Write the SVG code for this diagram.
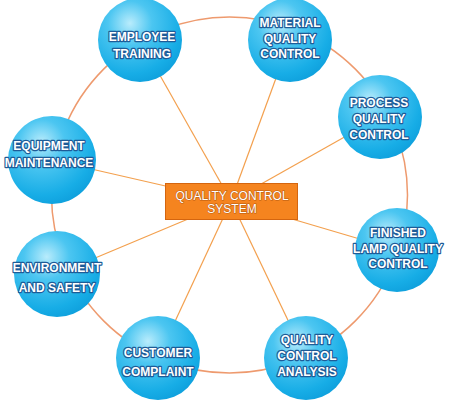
<svg xmlns="http://www.w3.org/2000/svg" width="450" height="404" viewBox="0 0 450 404">
<defs>
<radialGradient id="ball" cx="0.38" cy="0.3" r="0.75">
<stop offset="0" stop-color="#b9ecfc"/>
<stop offset="0.35" stop-color="#4cc6f1"/>
<stop offset="0.8" stop-color="#17ade6"/>
<stop offset="1" stop-color="#0e9fdc"/>
</radialGradient>
</defs>
<style>
.ring{fill:none;stroke:#ee9a6e;stroke-width:1.5}
.spoke{stroke:#f3a04e;stroke-width:1.2}
.ball{fill:url(#ball)}
.lbl{font-family:"Liberation Sans",Arial,sans-serif;font-size:12px;font-weight:bold;fill:#ffffff;stroke:#1d5c98;stroke-width:2.4;paint-order:stroke;stroke-linejoin:round;text-anchor:middle}
.ctr{font-family:"Liberation Sans",Arial,sans-serif;font-size:12px;fill:#ffffff;stroke:#b85a10;stroke-width:1;paint-order:stroke;text-anchor:middle}
</style>
<rect width="450" height="404" fill="#ffffff"/>
<circle class="ring" cx="229.5" cy="195" r="178"/>
<g id="connectors">
<line class="spoke" x1="231" y1="201" x2="140" y2="40"/>
<line class="spoke" x1="231" y1="201" x2="290" y2="40"/>
<line class="spoke" x1="231" y1="201" x2="380" y2="117"/>
<line class="spoke" x1="231" y1="201" x2="397" y2="250"/>
<line class="spoke" x1="231" y1="201" x2="306" y2="358"/>
<line class="spoke" x1="231" y1="201" x2="158" y2="358"/>
<line class="spoke" x1="231" y1="201" x2="57" y2="274"/>
<line class="spoke" x1="231" y1="201" x2="52" y2="160"/>
</g>
<g id="center">
<rect x="165.5" y="183.5" width="132" height="36" fill="#f5841f" stroke="#d4650f" stroke-width="1"/>
<text class="ctr" x="232" y="199.5">QUALITY CONTROL</text>
<text class="ctr" x="232" y="212.5">SYSTEM</text>
</g>
<g id="employee-training">
<circle class="ball" cx="140" cy="40" r="42"/>
<text class="lbl" x="142" y="40.5">EMPLOYEE</text>
<text class="lbl" x="142" y="57.5">TRAINING</text>
</g>
<g id="material-quality-control">
<circle class="ball" cx="290" cy="40" r="42"/>
<text class="lbl" x="290" y="26.5">MATERIAL</text>
<text class="lbl" x="290" y="42.5">QUALITY</text>
<text class="lbl" x="290" y="58">CONTROL</text>
</g>
<g id="process-quality-control">
<circle class="ball" cx="380" cy="117" r="42"/>
<text class="lbl" x="379" y="106.5">PROCESS</text>
<text class="lbl" x="379" y="122.5">QUALITY</text>
<text class="lbl" x="379" y="138.5">CONTROL</text>
</g>
<g id="finished-lamp-quality-control">
<circle class="ball" cx="397" cy="250" r="42"/>
<text class="lbl" x="398" y="236.5">FINISHED</text>
<text class="lbl" x="398" y="252.5">LAMP QUALITY</text>
<text class="lbl" x="398" y="267.5">CONTROL</text>
</g>
<g id="quality-control-analysis">
<circle class="ball" cx="306" cy="358" r="42"/>
<text class="lbl" x="307" y="343.5">QUALITY</text>
<text class="lbl" x="307" y="359.5">CONTROL</text>
<text class="lbl" x="307" y="375.5">ANALYSIS</text>
</g>
<g id="customer-complaint">
<circle class="ball" cx="158" cy="358" r="42"/>
<text class="lbl" x="158" y="356.5">CUSTOMER</text>
<text class="lbl" x="158" y="375.5">COMPLAINT</text>
</g>
<g id="environment-and-safety">
<circle class="ball" cx="57" cy="274" r="43"/>
<text class="lbl" x="57" y="271.5">ENVIRONMENT</text>
<text class="lbl" x="57" y="291.5">AND SAFETY</text>
</g>
<g id="equipment-maintenance">
<circle class="ball" cx="52" cy="160" r="44"/>
<text class="lbl" x="49" y="149.5">EQUIPMENT</text>
<text class="lbl" x="49" y="166.5">MAINTENANCE</text>
</g>
</svg>
